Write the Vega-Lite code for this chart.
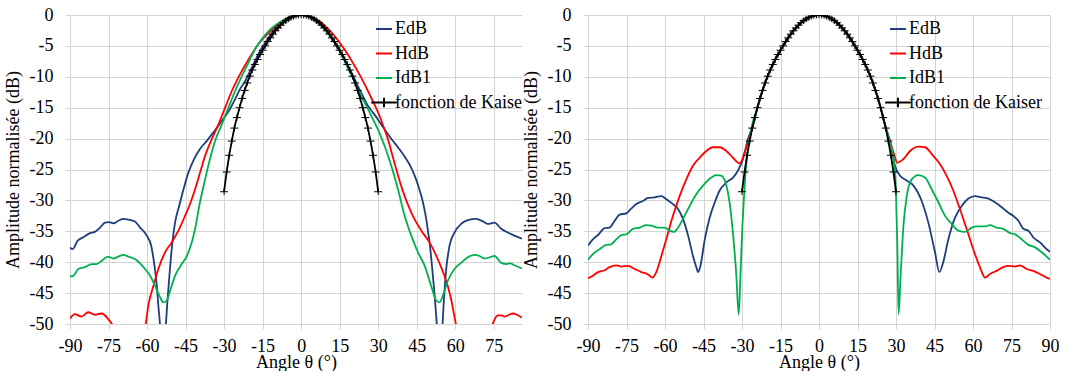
{
  "$schema": "https://vega.github.io/schema/vega-lite/v6.json",
  "background": "white",
  "padding": {"left": 4, "top": 6, "right": 0, "bottom": 0},
  "spacing": 0,
  "usermeta": {"embedOptions": {"config": {"font": "Liberation Serif", "axis": {"labelFont": "Liberation Serif", "titleFont": "Liberation Serif"}, "style": {"guide-label": {"font": "Liberation Serif"}, "guide-title": {"font": "Liberation Serif"}}}}},
  "config": {
    "view": {"stroke": null},
    "axis": {"labelFont": "Liberation Serif", "titleFont": "Liberation Serif"},
    "style": {"guide-label": {"font": "Liberation Serif"}, "guide-title": {"font": "Liberation Serif"}},
    "legend": {"orient": "none", "title": null, "padding": 0}
  },
  "resolve": {"scale": {"color": "independent"}, "legend": {"color": "independent"}},
  "datasets": {
    "left": [
      {"s":"EdB","x":-90,"y":-37.6},{"s":"EdB","x":-89,"y":-37.9},{"s":"EdB","x":-87,"y":-36.5},{"s":"EdB","x":-85,"y":-36.0},{"s":"EdB","x":-82.2,"y":-35.3},{"s":"EdB","x":-80.3,"y":-35.1},{"s":"EdB","x":-78.3,"y":-34.4},{"s":"EdB","x":-76.4,"y":-33.6},{"s":"EdB","x":-74.8,"y":-33.5},{"s":"EdB","x":-73.1,"y":-33.7},{"s":"EdB","x":-71.2,"y":-33.3},{"s":"EdB","x":-69.2,"y":-33.0},{"s":"EdB","x":-67.3,"y":-33.1},{"s":"EdB","x":-64.7,"y":-33.4},{"s":"EdB","x":-62.7,"y":-34.4},{"s":"EdB","x":-60.1,"y":-35.7},{"s":"EdB","x":-58.4,"y":-37.3},{"s":"EdB","x":-57.3,"y":-40.0},{"s":"EdB","x":-56.2,"y":-43.8},{"s":"EdB","x":-55.6,"y":-47.0},{"s":"EdB","x":-54.9,"y":-50.5},{"s":"EdB","x":-54,"y":-58},{"s":"EdB","x":-52.8,"y":-51},{"s":"EdB","x":-52.1,"y":-46.5},{"s":"EdB","x":-51.3,"y":-42.2},{"s":"EdB","x":-50.4,"y":-37.9},{"s":"EdB","x":-49.1,"y":-33.6},{"s":"EdB","x":-47.5,"y":-30.9},{"s":"EdB","x":-45.8,"y":-28.2},{"s":"EdB","x":-43.9,"y":-25.5},{"s":"EdB","x":-42.0,"y":-23.6},{"s":"EdB","x":-39.4,"y":-21.7},{"s":"EdB","x":-36.8,"y":-20.4},{"s":"EdB","x":-34.2,"y":-19.0},{"s":"EdB","x":-32.2,"y":-17.9},{"s":"EdB","x":-29.6,"y":-16.4},{"s":"EdB","x":-27.7,"y":-15.2},{"s":"EdB","x":-25.7,"y":-13.6},{"s":"EdB","x":-23.8,"y":-12.0},{"s":"EdB","x":-21.8,"y":-10.7},{"s":"EdB","x":-19.9,"y":-9.1},{"s":"EdB","x":-17.9,"y":-7.4},{"s":"EdB","x":-16.0,"y":-5.8},{"s":"EdB","x":-14.0,"y":-4.5},{"s":"EdB","x":-11.4,"y":-2.9},{"s":"EdB","x":-8.8,"y":-1.8},{"s":"EdB","x":-6.2,"y":-1.0},{"s":"EdB","x":-3.6,"y":-0.4},{"s":"EdB","x":0,"y":0},{"s":"EdB","x":2.6,"y":-0.2},{"s":"EdB","x":5,"y":-0.7},{"s":"EdB","x":7.8,"y":-1.5},{"s":"EdB","x":10.5,"y":-2.8},{"s":"EdB","x":13.0,"y":-4.5},{"s":"EdB","x":15.3,"y":-6.0},{"s":"EdB","x":17.5,"y":-7.7},{"s":"EdB","x":19.8,"y":-9.5},{"s":"EdB","x":22.1,"y":-11.5},{"s":"EdB","x":24,"y":-13.1},{"s":"EdB","x":26.0,"y":-14.7},{"s":"EdB","x":28,"y":-15.8},{"s":"EdB","x":29.9,"y":-16.9},{"s":"EdB","x":31.8,"y":-18.1},{"s":"EdB","x":33.8,"y":-19.3},{"s":"EdB","x":35.8,"y":-20.4},{"s":"EdB","x":37.7,"y":-21.4},{"s":"EdB","x":39.3,"y":-22.3},{"s":"EdB","x":40.9,"y":-23.3},{"s":"EdB","x":42.6,"y":-24.5},{"s":"EdB","x":44.2,"y":-26.0},{"s":"EdB","x":45.5,"y":-27.5},{"s":"EdB","x":46.8,"y":-29.3},{"s":"EdB","x":47.8,"y":-31.0},{"s":"EdB","x":48.7,"y":-33.0},{"s":"EdB","x":49.4,"y":-35},{"s":"EdB","x":50.0,"y":-36.8},{"s":"EdB","x":51.3,"y":-42.2},{"s":"EdB","x":52.2,"y":-46.5},{"s":"EdB","x":52.9,"y":-50.5},{"s":"EdB","x":53.9,"y":-58},{"s":"EdB","x":55,"y":-50.5},{"s":"EdB","x":55.6,"y":-46.0},{"s":"EdB","x":56.5,"y":-41.1},{"s":"EdB","x":57.8,"y":-37.3},{"s":"EdB","x":59.7,"y":-35.2},{"s":"EdB","x":62.3,"y":-33.8},{"s":"EdB","x":64.9,"y":-33.2},{"s":"EdB","x":68.2,"y":-33.0},{"s":"EdB","x":70.8,"y":-33.4},{"s":"EdB","x":72.7,"y":-33.8},{"s":"EdB","x":75.3,"y":-33.6},{"s":"EdB","x":77.9,"y":-34.6},{"s":"EdB","x":80.5,"y":-35.2},{"s":"EdB","x":83,"y":-35.7},{"s":"EdB","x":86,"y":-36.2},
      {"s":"HdB","x":-90,"y":-49.1},{"s":"HdB","x":-88.1,"y":-48.4},{"s":"HdB","x":-85.5,"y":-48.8},{"s":"HdB","x":-82.9,"y":-48.1},{"s":"HdB","x":-80.3,"y":-48.5},{"s":"HdB","x":-77.7,"y":-48.3},{"s":"HdB","x":-75.1,"y":-49.2},{"s":"HdB","x":-73.2,"y":-50.3},{"s":"HdB","x":-70,"y":-53},{"s":"HdB","x":-66,"y":-55},{"s":"HdB","x":-62,"y":-53},{"s":"HdB","x":-60.6,"y":-50.3},{"s":"HdB","x":-59.5,"y":-47.0},{"s":"HdB","x":-57.5,"y":-43.8},{"s":"HdB","x":-55.6,"y":-41.1},{"s":"HdB","x":-53.0,"y":-38.4},{"s":"HdB","x":-50.4,"y":-36.8},{"s":"HdB","x":-47.8,"y":-34.9},{"s":"HdB","x":-45.2,"y":-32.5},{"s":"HdB","x":-43.2,"y":-30.5},{"s":"HdB","x":-41.3,"y":-28.2},{"s":"HdB","x":-39.3,"y":-25.4},{"s":"HdB","x":-37.4,"y":-22.8},{"s":"HdB","x":-34.8,"y":-20.1},{"s":"HdB","x":-32.2,"y":-17.7},{"s":"HdB","x":-29.6,"y":-15.0},{"s":"HdB","x":-27.0,"y":-12.3},{"s":"HdB","x":-23.8,"y":-9.6},{"s":"HdB","x":-20.5,"y":-7.2},{"s":"HdB","x":-16.6,"y":-4.7},{"s":"HdB","x":-12.7,"y":-2.9},{"s":"HdB","x":-8.8,"y":-1.5},{"s":"HdB","x":-4.9,"y":-0.4},{"s":"HdB","x":0,"y":0},{"s":"HdB","x":2.6,"y":-0.2},{"s":"HdB","x":5.2,"y":-0.6},{"s":"HdB","x":7.8,"y":-1.2},{"s":"HdB","x":10.4,"y":-2.2},{"s":"HdB","x":13.0,"y":-3.4},{"s":"HdB","x":15.6,"y":-4.8},{"s":"HdB","x":18.2,"y":-6.4},{"s":"HdB","x":20.5,"y":-8.0},{"s":"HdB","x":22.7,"y":-9.6},{"s":"HdB","x":24.7,"y":-11.2},{"s":"HdB","x":26.6,"y":-12.8},{"s":"HdB","x":28.6,"y":-14.5},{"s":"HdB","x":30.5,"y":-16.3},{"s":"HdB","x":32.2,"y":-18.2},{"s":"HdB","x":33.8,"y":-20.1},{"s":"HdB","x":35.4,"y":-22.5},{"s":"HdB","x":37.0,"y":-24.9},{"s":"HdB","x":38.7,"y":-27.3},{"s":"HdB","x":40.3,"y":-29.3},{"s":"HdB","x":41.9,"y":-31.0},{"s":"HdB","x":43.5,"y":-32.5},{"s":"HdB","x":46.8,"y":-34.9},{"s":"HdB","x":50.0,"y":-36.8},{"s":"HdB","x":53.2,"y":-39.5},{"s":"HdB","x":55.8,"y":-42.2},{"s":"HdB","x":57.2,"y":-44},{"s":"HdB","x":58.4,"y":-46.0},{"s":"HdB","x":60.4,"y":-50.3},{"s":"HdB","x":62,"y":-53},{"s":"HdB","x":68,"y":-55},{"s":"HdB","x":73,"y":-52},{"s":"HdB","x":74.6,"y":-50.0},{"s":"HdB","x":76.5,"y":-48.6},{"s":"HdB","x":78,"y":-48.6},{"s":"HdB","x":79.3,"y":-48.8},{"s":"HdB","x":81,"y":-48.5},{"s":"HdB","x":82.5,"y":-48.3},{"s":"HdB","x":84,"y":-48.5},{"s":"HdB","x":86,"y":-49.0},
      {"s":"IdB1","x":-90,"y":-42.3},{"s":"IdB1","x":-88.7,"y":-42.2},{"s":"IdB1","x":-86.8,"y":-41.1},{"s":"IdB1","x":-84.2,"y":-40.8},{"s":"IdB1","x":-81.6,"y":-40.3},{"s":"IdB1","x":-79.6,"y":-40.3},{"s":"IdB1","x":-77.7,"y":-39.8},{"s":"IdB1","x":-75.3,"y":-39.1},{"s":"IdB1","x":-73.1,"y":-39.4},{"s":"IdB1","x":-71.2,"y":-39.1},{"s":"IdB1","x":-69.2,"y":-38.8},{"s":"IdB1","x":-67.3,"y":-39.1},{"s":"IdB1","x":-64.7,"y":-39.5},{"s":"IdB1","x":-61.4,"y":-40.8},{"s":"IdB1","x":-58.8,"y":-42.2},{"s":"IdB1","x":-56.9,"y":-43.8},{"s":"IdB1","x":-54.9,"y":-45.7},{"s":"IdB1","x":-53.6,"y":-46.5},{"s":"IdB1","x":-52.3,"y":-46.2},{"s":"IdB1","x":-51.0,"y":-44.6},{"s":"IdB1","x":-49.1,"y":-42.2},{"s":"IdB1","x":-46.5,"y":-40.3},{"s":"IdB1","x":-44.5,"y":-39.0},{"s":"IdB1","x":-42.6,"y":-36.8},{"s":"IdB1","x":-41.3,"y":-34.6},{"s":"IdB1","x":-39.4,"y":-30.3},{"s":"IdB1","x":-37.4,"y":-26.6},{"s":"IdB1","x":-35.5,"y":-23.3},{"s":"IdB1","x":-33.5,"y":-20.4},{"s":"IdB1","x":-30.9,"y":-17.7},{"s":"IdB1","x":-28.3,"y":-15.0},{"s":"IdB1","x":-25.7,"y":-12.3},{"s":"IdB1","x":-23.1,"y":-9.9},{"s":"IdB1","x":-20.5,"y":-7.7},{"s":"IdB1","x":-17.9,"y":-5.5},{"s":"IdB1","x":-15.3,"y":-3.9},{"s":"IdB1","x":-12.7,"y":-2.6},{"s":"IdB1","x":-9.5,"y":-1.5},{"s":"IdB1","x":-6.2,"y":-0.7},{"s":"IdB1","x":-3.0,"y":-0.2},{"s":"IdB1","x":0,"y":0},{"s":"IdB1","x":2.6,"y":-0.2},{"s":"IdB1","x":5.2,"y":-0.8},{"s":"IdB1","x":7.8,"y":-1.7},{"s":"IdB1","x":10.4,"y":-2.9},{"s":"IdB1","x":13.0,"y":-4.5},{"s":"IdB1","x":15.3,"y":-6.1},{"s":"IdB1","x":17.5,"y":-8.0},{"s":"IdB1","x":19.8,"y":-9.9},{"s":"IdB1","x":22.1,"y":-12.0},{"s":"IdB1","x":24,"y":-13.6},{"s":"IdB1","x":26.0,"y":-15.2},{"s":"IdB1","x":28,"y":-16.9},{"s":"IdB1","x":29.9,"y":-18.5},{"s":"IdB1","x":32.5,"y":-21.2},{"s":"IdB1","x":35.1,"y":-24.4},{"s":"IdB1","x":37.7,"y":-28.2},{"s":"IdB1","x":40.3,"y":-32.5},{"s":"IdB1","x":42.9,"y":-35.7},{"s":"IdB1","x":45.5,"y":-38.4},{"s":"IdB1","x":48.1,"y":-40.6},{"s":"IdB1","x":50.6,"y":-43.8},{"s":"IdB1","x":52.6,"y":-46.2},{"s":"IdB1","x":53.9,"y":-46.5},{"s":"IdB1","x":55.2,"y":-45.4},{"s":"IdB1","x":57.1,"y":-43.0},{"s":"IdB1","x":59.7,"y":-41.1},{"s":"IdB1","x":62.3,"y":-40.1},{"s":"IdB1","x":64.9,"y":-39.2},{"s":"IdB1","x":67.5,"y":-38.8},{"s":"IdB1","x":69.5,"y":-39.0},{"s":"IdB1","x":71.4,"y":-39.4},{"s":"IdB1","x":73.4,"y":-39.2},{"s":"IdB1","x":75.3,"y":-39.0},{"s":"IdB1","x":77.9,"y":-40.1},{"s":"IdB1","x":79.9,"y":-40.3},{"s":"IdB1","x":81.5,"y":-40.2},{"s":"IdB1","x":83,"y":-40.5},{"s":"IdB1","x":86,"y":-41.0},
      {"s":"fonction de Kaiser","x":-30,"y":-28.6},{"s":"fonction de Kaiser","x":-29,"y":-25.4},{"s":"fonction de Kaiser","x":-28,"y":-22.7},{"s":"fonction de Kaiser","x":-27,"y":-20.4},{"s":"fonction de Kaiser","x":-26,"y":-18.3},{"s":"fonction de Kaiser","x":-25,"y":-16.6},{"s":"fonction de Kaiser","x":-24,"y":-15.0},{"s":"fonction de Kaiser","x":-23,"y":-13.5},{"s":"fonction de Kaiser","x":-22,"y":-12.2},{"s":"fonction de Kaiser","x":-21,"y":-11.0},{"s":"fonction de Kaiser","x":-20,"y":-9.9},{"s":"fonction de Kaiser","x":-19,"y":-8.9},{"s":"fonction de Kaiser","x":-18,"y":-8.0},{"s":"fonction de Kaiser","x":-17,"y":-7.2},{"s":"fonction de Kaiser","x":-16,"y":-6.4},{"s":"fonction de Kaiser","x":-15,"y":-5.7},{"s":"fonction de Kaiser","x":-14,"y":-5.0},{"s":"fonction de Kaiser","x":-13,"y":-4.3},{"s":"fonction de Kaiser","x":-12,"y":-3.7},{"s":"fonction de Kaiser","x":-11,"y":-3.1},{"s":"fonction de Kaiser","x":-10,"y":-2.55},{"s":"fonction de Kaiser","x":-9,"y":-2.1},{"s":"fonction de Kaiser","x":-8,"y":-1.65},{"s":"fonction de Kaiser","x":-7,"y":-1.25},{"s":"fonction de Kaiser","x":-6,"y":-0.92},{"s":"fonction de Kaiser","x":-5,"y":-0.64},{"s":"fonction de Kaiser","x":-4,"y":-0.41},{"s":"fonction de Kaiser","x":-3,"y":-0.23},{"s":"fonction de Kaiser","x":-2,"y":-0.1},{"s":"fonction de Kaiser","x":-1,"y":-0.03},{"s":"fonction de Kaiser","x":0,"y":0},{"s":"fonction de Kaiser","x":1,"y":-0.03},{"s":"fonction de Kaiser","x":2,"y":-0.1},{"s":"fonction de Kaiser","x":3,"y":-0.23},{"s":"fonction de Kaiser","x":4,"y":-0.41},{"s":"fonction de Kaiser","x":5,"y":-0.64},{"s":"fonction de Kaiser","x":6,"y":-0.92},{"s":"fonction de Kaiser","x":7,"y":-1.25},{"s":"fonction de Kaiser","x":8,"y":-1.65},{"s":"fonction de Kaiser","x":9,"y":-2.1},{"s":"fonction de Kaiser","x":10,"y":-2.55},{"s":"fonction de Kaiser","x":11,"y":-3.1},{"s":"fonction de Kaiser","x":12,"y":-3.7},{"s":"fonction de Kaiser","x":13,"y":-4.3},{"s":"fonction de Kaiser","x":14,"y":-5.0},{"s":"fonction de Kaiser","x":15,"y":-5.7},{"s":"fonction de Kaiser","x":16,"y":-6.4},{"s":"fonction de Kaiser","x":17,"y":-7.2},{"s":"fonction de Kaiser","x":18,"y":-8.0},{"s":"fonction de Kaiser","x":19,"y":-8.9},{"s":"fonction de Kaiser","x":20,"y":-9.9},{"s":"fonction de Kaiser","x":21,"y":-11.0},{"s":"fonction de Kaiser","x":22,"y":-12.2},{"s":"fonction de Kaiser","x":23,"y":-13.5},{"s":"fonction de Kaiser","x":24,"y":-15.0},{"s":"fonction de Kaiser","x":25,"y":-16.6},{"s":"fonction de Kaiser","x":26,"y":-18.3},{"s":"fonction de Kaiser","x":27,"y":-20.4},{"s":"fonction de Kaiser","x":28,"y":-22.7},{"s":"fonction de Kaiser","x":29,"y":-25.4},{"s":"fonction de Kaiser","x":30,"y":-28.6}
    ],
    "right": [
      {"s":"EdB","x":-90,"y":-37.3},{"s":"EdB","x":-88.1,"y":-36.3},{"s":"EdB","x":-86.1,"y":-35.6},{"s":"EdB","x":-83.5,"y":-34.5},{"s":"EdB","x":-81.6,"y":-34.4},{"s":"EdB","x":-79.6,"y":-33.3},{"s":"EdB","x":-77.7,"y":-32.3},{"s":"EdB","x":-75.1,"y":-32.1},{"s":"EdB","x":-73.1,"y":-31.3},{"s":"EdB","x":-71.2,"y":-30.6},{"s":"EdB","x":-68.6,"y":-30.1},{"s":"EdB","x":-66.6,"y":-29.6},{"s":"EdB","x":-64.0,"y":-29.5},{"s":"EdB","x":-61.4,"y":-29.3},{"s":"EdB","x":-59.5,"y":-29.8},{"s":"EdB","x":-56.9,"y":-30.6},{"s":"EdB","x":-54.9,"y":-31.4},{"s":"EdB","x":-53.0,"y":-33.0},{"s":"EdB","x":-51.0,"y":-35.7},{"s":"EdB","x":-49.1,"y":-39.0},{"s":"EdB","x":-47.8,"y":-40.8},{"s":"EdB","x":-47.1,"y":-41.6},{"s":"EdB","x":-46.2,"y":-40.6},{"s":"EdB","x":-44.5,"y":-36.3},{"s":"EdB","x":-42.6,"y":-32.8},{"s":"EdB","x":-40.6,"y":-30.3},{"s":"EdB","x":-38.7,"y":-28.4},{"s":"EdB","x":-36.1,"y":-27.1},{"s":"EdB","x":-33.5,"y":-26.3},{"s":"EdB","x":-31.6,"y":-25.2},{"s":"EdB","x":-29.6,"y":-23.3},{"s":"EdB","x":-27.7,"y":-20.1},{"s":"EdB","x":-26,"y":-18.2},{"s":"EdB","x":-24,"y":-15.0},{"s":"EdB","x":-22,"y":-12.2},{"s":"EdB","x":-20,"y":-9.9},{"s":"EdB","x":-17,"y":-7.2},{"s":"EdB","x":-14,"y":-5.0},{"s":"EdB","x":-11,"y":-3.1},{"s":"EdB","x":-8,"y":-1.65},{"s":"EdB","x":-5,"y":-0.64},{"s":"EdB","x":-2,"y":-0.1},{"s":"EdB","x":0,"y":0},{"s":"EdB","x":2,"y":-0.1},{"s":"EdB","x":5,"y":-0.64},{"s":"EdB","x":8,"y":-1.65},{"s":"EdB","x":11,"y":-3.1},{"s":"EdB","x":14,"y":-5.0},{"s":"EdB","x":17,"y":-7.2},{"s":"EdB","x":20,"y":-9.9},{"s":"EdB","x":22,"y":-12.2},{"s":"EdB","x":24,"y":-15.0},{"s":"EdB","x":26,"y":-18.2},{"s":"EdB","x":27.7,"y":-20.4},{"s":"EdB","x":29.6,"y":-24.4},{"s":"EdB","x":31.6,"y":-26.0},{"s":"EdB","x":34.2,"y":-26.8},{"s":"EdB","x":36.8,"y":-27.6},{"s":"EdB","x":40.0,"y":-30.1},{"s":"EdB","x":42.6,"y":-33.6},{"s":"EdB","x":45.2,"y":-38.4},{"s":"EdB","x":46.9,"y":-41.6},{"s":"EdB","x":48.4,"y":-40.0},{"s":"EdB","x":50.4,"y":-36.3},{"s":"EdB","x":53.0,"y":-32.8},{"s":"EdB","x":55.6,"y":-30.9},{"s":"EdB","x":58.2,"y":-29.7},{"s":"EdB","x":60.8,"y":-29.3},{"s":"EdB","x":63.4,"y":-29.5},{"s":"EdB","x":66.0,"y":-29.7},{"s":"EdB","x":68.6,"y":-30.3},{"s":"EdB","x":71.2,"y":-31.1},{"s":"EdB","x":73.8,"y":-32.0},{"s":"EdB","x":75.7,"y":-32.5},{"s":"EdB","x":77.7,"y":-33.3},{"s":"EdB","x":79.6,"y":-34.6},{"s":"EdB","x":81.6,"y":-34.9},{"s":"EdB","x":83.5,"y":-36.0},{"s":"EdB","x":86.1,"y":-36.8},{"s":"EdB","x":88.7,"y":-37.9},{"s":"EdB","x":90,"y":-38.3},
      {"s":"HdB","x":-90,"y":-42.6},{"s":"HdB","x":-88.1,"y":-42.2},{"s":"HdB","x":-86.1,"y":-41.6},{"s":"HdB","x":-83.5,"y":-41.3},{"s":"HdB","x":-81.6,"y":-40.8},{"s":"HdB","x":-79.0,"y":-40.5},{"s":"HdB","x":-77.0,"y":-40.7},{"s":"HdB","x":-74.4,"y":-40.6},{"s":"HdB","x":-71.8,"y":-41.1},{"s":"HdB","x":-69.2,"y":-41.6},{"s":"HdB","x":-66.6,"y":-42.0},{"s":"HdB","x":-64.9,"y":-42.5},{"s":"HdB","x":-63.4,"y":-41.6},{"s":"HdB","x":-61.4,"y":-39.0},{"s":"HdB","x":-59.5,"y":-36.3},{"s":"HdB","x":-56.9,"y":-32.5},{"s":"HdB","x":-54.3,"y":-29.3},{"s":"HdB","x":-51.7,"y":-26.6},{"s":"HdB","x":-49.1,"y":-24.4},{"s":"HdB","x":-46.5,"y":-23.1},{"s":"HdB","x":-43.9,"y":-22.0},{"s":"HdB","x":-41.3,"y":-21.4},{"s":"HdB","x":-38.7,"y":-21.4},{"s":"HdB","x":-36.1,"y":-22.0},{"s":"HdB","x":-33.5,"y":-23.1},{"s":"HdB","x":-30.9,"y":-24.0},{"s":"HdB","x":-29.0,"y":-22.3},{"s":"HdB","x":-27.7,"y":-20.6},{"s":"HdB","x":-26,"y":-18.3},{"s":"HdB","x":-24,"y":-15.0},{"s":"HdB","x":-22,"y":-12.2},{"s":"HdB","x":-20,"y":-9.9},{"s":"HdB","x":-17,"y":-7.2},{"s":"HdB","x":-14,"y":-5.0},{"s":"HdB","x":-11,"y":-3.1},{"s":"HdB","x":-8,"y":-1.65},{"s":"HdB","x":-5,"y":-0.64},{"s":"HdB","x":-2,"y":-0.1},{"s":"HdB","x":0,"y":0},{"s":"HdB","x":2,"y":-0.1},{"s":"HdB","x":5,"y":-0.64},{"s":"HdB","x":8,"y":-1.65},{"s":"HdB","x":11,"y":-3.1},{"s":"HdB","x":14,"y":-5.0},{"s":"HdB","x":17,"y":-7.2},{"s":"HdB","x":20,"y":-9.9},{"s":"HdB","x":22,"y":-12.2},{"s":"HdB","x":24,"y":-15.0},{"s":"HdB","x":26,"y":-18.3},{"s":"HdB","x":27.6,"y":-20.4},{"s":"HdB","x":29.1,"y":-22.3},{"s":"HdB","x":30.5,"y":-23.9},{"s":"HdB","x":32.9,"y":-23.3},{"s":"HdB","x":35.5,"y":-22.0},{"s":"HdB","x":38.7,"y":-21.3},{"s":"HdB","x":41.3,"y":-21.4},{"s":"HdB","x":44.5,"y":-22.8},{"s":"HdB","x":47.1,"y":-24.1},{"s":"HdB","x":49.7,"y":-26.0},{"s":"HdB","x":52.3,"y":-28.4},{"s":"HdB","x":54.9,"y":-31.4},{"s":"HdB","x":57.5,"y":-34.6},{"s":"HdB","x":60.1,"y":-37.9},{"s":"HdB","x":62.7,"y":-40.8},{"s":"HdB","x":64.7,"y":-42.5},{"s":"HdB","x":66.6,"y":-41.9},{"s":"HdB","x":69.2,"y":-41.4},{"s":"HdB","x":71.8,"y":-40.8},{"s":"HdB","x":73.8,"y":-40.6},{"s":"HdB","x":76.4,"y":-40.7},{"s":"HdB","x":78.3,"y":-40.5},{"s":"HdB","x":80.9,"y":-41.1},{"s":"HdB","x":83.5,"y":-41.4},{"s":"HdB","x":86.1,"y":-41.9},{"s":"HdB","x":88.7,"y":-42.5},{"s":"HdB","x":90,"y":-42.7},
      {"s":"IdB1","x":-90,"y":-39.6},{"s":"IdB1","x":-88.1,"y":-38.7},{"s":"IdB1","x":-85.5,"y":-37.9},{"s":"IdB1","x":-82.9,"y":-37.2},{"s":"IdB1","x":-81.0,"y":-37.1},{"s":"IdB1","x":-79.0,"y":-36.3},{"s":"IdB1","x":-77.0,"y":-35.6},{"s":"IdB1","x":-75.1,"y":-35.5},{"s":"IdB1","x":-72.5,"y":-34.6},{"s":"IdB1","x":-69.9,"y":-34.4},{"s":"IdB1","x":-67.3,"y":-34.0},{"s":"IdB1","x":-65.3,"y":-34.1},{"s":"IdB1","x":-62.7,"y":-34.4},{"s":"IdB1","x":-60.1,"y":-34.4},{"s":"IdB1","x":-58.2,"y":-34.9},{"s":"IdB1","x":-56.6,"y":-35.1},{"s":"IdB1","x":-54.9,"y":-34.4},{"s":"IdB1","x":-53.0,"y":-33.0},{"s":"IdB1","x":-50.4,"y":-30.9},{"s":"IdB1","x":-47.8,"y":-29.0},{"s":"IdB1","x":-45.2,"y":-27.6},{"s":"IdB1","x":-42.6,"y":-26.5},{"s":"IdB1","x":-40.0,"y":-25.9},{"s":"IdB1","x":-38.1,"y":-26.0},{"s":"IdB1","x":-36.1,"y":-27.6},{"s":"IdB1","x":-34.5,"y":-31.4},{"s":"IdB1","x":-33.2,"y":-36.8},{"s":"IdB1","x":-32.2,"y":-42.2},{"s":"IdB1","x":-31.3,"y":-48.5},{"s":"IdB1","x":-30.6,"y":-42.2},{"s":"IdB1","x":-30.0,"y":-35.7},{"s":"IdB1","x":-29.2,"y":-29.3},{"s":"IdB1","x":-28.3,"y":-23.9},{"s":"IdB1","x":-27.3,"y":-20.6},{"s":"IdB1","x":-25.7,"y":-17.2},{"s":"IdB1","x":-24,"y":-15.0},{"s":"IdB1","x":-22,"y":-12.2},{"s":"IdB1","x":-20,"y":-9.9},{"s":"IdB1","x":-17,"y":-7.2},{"s":"IdB1","x":-14,"y":-5.0},{"s":"IdB1","x":-11,"y":-3.1},{"s":"IdB1","x":-8,"y":-1.65},{"s":"IdB1","x":-5,"y":-0.64},{"s":"IdB1","x":-2,"y":-0.1},{"s":"IdB1","x":0,"y":0},{"s":"IdB1","x":2,"y":-0.1},{"s":"IdB1","x":5,"y":-0.64},{"s":"IdB1","x":8,"y":-1.65},{"s":"IdB1","x":11,"y":-3.1},{"s":"IdB1","x":14,"y":-5.0},{"s":"IdB1","x":17,"y":-7.2},{"s":"IdB1","x":20,"y":-9.9},{"s":"IdB1","x":22,"y":-12.2},{"s":"IdB1","x":24,"y":-15.0},{"s":"IdB1","x":26,"y":-18.2},{"s":"IdB1","x":27.6,"y":-20.6},{"s":"IdB1","x":29.0,"y":-22.8},{"s":"IdB1","x":30.0,"y":-29.3},{"s":"IdB1","x":30.5,"y":-36.8},{"s":"IdB1","x":31.0,"y":-48.4},{"s":"IdB1","x":31.8,"y":-42.2},{"s":"IdB1","x":32.9,"y":-34.1},{"s":"IdB1","x":34.2,"y":-29.3},{"s":"IdB1","x":36.1,"y":-26.6},{"s":"IdB1","x":38.7,"y":-25.9},{"s":"IdB1","x":41.3,"y":-26.3},{"s":"IdB1","x":43.9,"y":-28.2},{"s":"IdB1","x":46.5,"y":-30.3},{"s":"IdB1","x":49.1,"y":-32.5},{"s":"IdB1","x":51.7,"y":-33.8},{"s":"IdB1","x":54.3,"y":-34.9},{"s":"IdB1","x":56.9,"y":-35.1},{"s":"IdB1","x":59.5,"y":-34.4},{"s":"IdB1","x":62.0,"y":-34.2},{"s":"IdB1","x":64.7,"y":-34.2},{"s":"IdB1","x":66.6,"y":-34.0},{"s":"IdB1","x":69.2,"y":-34.4},{"s":"IdB1","x":71.8,"y":-34.6},{"s":"IdB1","x":74.4,"y":-35.3},{"s":"IdB1","x":76.4,"y":-35.5},{"s":"IdB1","x":79.0,"y":-36.3},{"s":"IdB1","x":81.6,"y":-37.2},{"s":"IdB1","x":84.2,"y":-37.6},{"s":"IdB1","x":86.8,"y":-38.4},{"s":"IdB1","x":88.7,"y":-39.1},{"s":"IdB1","x":90,"y":-39.6},
      {"s":"fonction de Kaiser","x":-30,"y":-28.6},{"s":"fonction de Kaiser","x":-29,"y":-25.4},{"s":"fonction de Kaiser","x":-28,"y":-22.7},{"s":"fonction de Kaiser","x":-27,"y":-20.4},{"s":"fonction de Kaiser","x":-26,"y":-18.3},{"s":"fonction de Kaiser","x":-25,"y":-16.6},{"s":"fonction de Kaiser","x":-24,"y":-15.0},{"s":"fonction de Kaiser","x":-23,"y":-13.5},{"s":"fonction de Kaiser","x":-22,"y":-12.2},{"s":"fonction de Kaiser","x":-21,"y":-11.0},{"s":"fonction de Kaiser","x":-20,"y":-9.9},{"s":"fonction de Kaiser","x":-19,"y":-8.9},{"s":"fonction de Kaiser","x":-18,"y":-8.0},{"s":"fonction de Kaiser","x":-17,"y":-7.2},{"s":"fonction de Kaiser","x":-16,"y":-6.4},{"s":"fonction de Kaiser","x":-15,"y":-5.7},{"s":"fonction de Kaiser","x":-14,"y":-5.0},{"s":"fonction de Kaiser","x":-13,"y":-4.3},{"s":"fonction de Kaiser","x":-12,"y":-3.7},{"s":"fonction de Kaiser","x":-11,"y":-3.1},{"s":"fonction de Kaiser","x":-10,"y":-2.55},{"s":"fonction de Kaiser","x":-9,"y":-2.1},{"s":"fonction de Kaiser","x":-8,"y":-1.65},{"s":"fonction de Kaiser","x":-7,"y":-1.25},{"s":"fonction de Kaiser","x":-6,"y":-0.92},{"s":"fonction de Kaiser","x":-5,"y":-0.64},{"s":"fonction de Kaiser","x":-4,"y":-0.41},{"s":"fonction de Kaiser","x":-3,"y":-0.23},{"s":"fonction de Kaiser","x":-2,"y":-0.1},{"s":"fonction de Kaiser","x":-1,"y":-0.03},{"s":"fonction de Kaiser","x":0,"y":0},{"s":"fonction de Kaiser","x":1,"y":-0.03},{"s":"fonction de Kaiser","x":2,"y":-0.1},{"s":"fonction de Kaiser","x":3,"y":-0.23},{"s":"fonction de Kaiser","x":4,"y":-0.41},{"s":"fonction de Kaiser","x":5,"y":-0.64},{"s":"fonction de Kaiser","x":6,"y":-0.92},{"s":"fonction de Kaiser","x":7,"y":-1.25},{"s":"fonction de Kaiser","x":8,"y":-1.65},{"s":"fonction de Kaiser","x":9,"y":-2.1},{"s":"fonction de Kaiser","x":10,"y":-2.55},{"s":"fonction de Kaiser","x":11,"y":-3.1},{"s":"fonction de Kaiser","x":12,"y":-3.7},{"s":"fonction de Kaiser","x":13,"y":-4.3},{"s":"fonction de Kaiser","x":14,"y":-5.0},{"s":"fonction de Kaiser","x":15,"y":-5.7},{"s":"fonction de Kaiser","x":16,"y":-6.4},{"s":"fonction de Kaiser","x":17,"y":-7.2},{"s":"fonction de Kaiser","x":18,"y":-8.0},{"s":"fonction de Kaiser","x":19,"y":-8.9},{"s":"fonction de Kaiser","x":20,"y":-9.9},{"s":"fonction de Kaiser","x":21,"y":-11.0},{"s":"fonction de Kaiser","x":22,"y":-12.2},{"s":"fonction de Kaiser","x":23,"y":-13.5},{"s":"fonction de Kaiser","x":24,"y":-15.0},{"s":"fonction de Kaiser","x":25,"y":-16.6},{"s":"fonction de Kaiser","x":26,"y":-18.3},{"s":"fonction de Kaiser","x":27,"y":-20.4},{"s":"fonction de Kaiser","x":28,"y":-22.7},{"s":"fonction de Kaiser","x":29,"y":-25.4},{"s":"fonction de Kaiser","x":30,"y":-28.6}
    ]
  },
  "hconcat": [
    {
      "width": 452, "height": 309,
      "data": {"name": "left"},
      "encoding": {
        "x": {"field": "x", "type": "quantitative", "scale": {"domain": [-90, 86], "nice": false, "zero": false},
              "axis": {"title": "Angle θ (°)", "values": [-90,-75,-60,-45,-30,-15,0,15,30,45,60,75], "labelExpr": "'' + datum.value",
                       "labelFont": "Liberation Serif", "labelFontSize": 18, "labelColor": "black", "labelOverlap": false, "labelFlush": false,
                       "titleFont": "Liberation Serif", "titleFontSize": 18, "titleFontWeight": "normal", "titleColor": "black",
                       "gridColor": "#D4D4D4", "tickColor": "#D4D4D4", "domain": false, "tickSize": 5, "labelPadding": 8, "titlePadding": -2}},
        "y": {"field": "y", "type": "quantitative", "scale": {"domain": [-50, 0], "nice": false, "zero": false},
              "axis": {"title": "Amplitude normalisée (dB)", "values": [-50,-45,-40,-35,-30,-25,-20,-15,-10,-5,0], "labelExpr": "'' + datum.value",
                       "labelFont": "Liberation Serif", "labelFontSize": 18, "labelColor": "black", "labelOverlap": false,
                       "titleFont": "Liberation Serif", "titleFontSize": 18, "titleFontWeight": "normal", "titleColor": "black",
                       "gridColor": "#D4D4D4", "tickColor": "#D4D4D4", "domain": false, "tickSize": 5, "labelPadding": 12, "titlePadding": 7}}
      },
      "layer": [
        {
          "mark": {"type": "line", "strokeWidth": 1.8, "clip": true, "interpolate": "monotone"},
          "encoding": {
            "color": {"field": "s", "type": "nominal",
                      "scale": {"domain": ["EdB", "HdB", "IdB1", "fonction de Kaiser"], "range": ["#1F3C7E", "#FF0000", "#00B050", "#000000"]},
                      "legend": {"legendX": 305, "legendY": 5, "labelLimit": 128,
                                 "labelFont": "Liberation Serif", "labelFontSize": 18, "labelColor": "black",
                                 "symbolType": "stroke", "symbolSize": 256, "symbolStrokeWidth": 2, "rowPadding": 6.5, "labelOffset": 2,
                                 "encode": {"symbols": {"update": {"shape": {"signal": "datum.value === 'fonction de Kaiser' ? 'M-1.6,0H1.6M0,-0.6V0.6' : 'stroke'"}}},
                                            "labels": {"update": {"ellipsis": {"value": "\u200b"}}}}}}
          }
        },
        {
          "transform": [{"filter": "datum.s === 'fonction de Kaiser'"}],
          "mark": {"type": "point", "shape": "M-1,0H1M0,-0.8V0.8", "filled": false, "size": 64, "stroke": "black", "strokeWidth": 1, "opacity": 1, "clip": true}
        }
      ]
    },
    {
      "width": 462, "height": 309,
      "data": {"name": "right"},
      "encoding": {
        "x": {"field": "x", "type": "quantitative", "scale": {"domain": [-90, 90], "nice": false, "zero": false},
              "axis": {"title": "Angle θ (°)", "values": [-90,-75,-60,-45,-30,-15,0,15,30,45,60,75,90], "labelExpr": "'' + datum.value",
                       "labelFont": "Liberation Serif", "labelFontSize": 18, "labelColor": "black", "labelOverlap": false, "labelFlush": false,
                       "titleFont": "Liberation Serif", "titleFontSize": 18, "titleFontWeight": "normal", "titleColor": "black",
                       "gridColor": "#D4D4D4", "tickColor": "#D4D4D4", "domain": false, "tickSize": 5, "labelPadding": 8, "titlePadding": -2}},
        "y": {"field": "y", "type": "quantitative", "scale": {"domain": [-50, 0], "nice": false, "zero": false},
              "axis": {"title": "Amplitude normalisée (dB)", "values": [-50,-45,-40,-35,-30,-25,-20,-15,-10,-5,0], "labelExpr": "'' + datum.value",
                       "labelFont": "Liberation Serif", "labelFontSize": 18, "labelColor": "black", "labelOverlap": false,
                       "titleFont": "Liberation Serif", "titleFontSize": 18, "titleFontWeight": "normal", "titleColor": "black",
                       "gridColor": "#D4D4D4", "tickColor": "#D4D4D4", "domain": false, "tickSize": 5, "labelPadding": 12, "titlePadding": 7}}
      },
      "layer": [
        {
          "mark": {"type": "line", "strokeWidth": 1.8, "clip": true, "interpolate": "monotone"},
          "encoding": {
            "color": {"field": "s", "type": "nominal",
                      "scale": {"domain": ["EdB", "HdB", "IdB1", "fonction de Kaiser"], "range": ["#1F3C7E", "#FF0000", "#00B050", "#000000"]},
                      "legend": {"legendX": 301, "legendY": 5,
                                 "labelFont": "Liberation Serif", "labelFontSize": 18, "labelColor": "black",
                                 "symbolType": "stroke", "symbolSize": 256, "symbolStrokeWidth": 2, "rowPadding": 6.5, "labelOffset": 2,
                                 "encode": {"symbols": {"update": {"shape": {"signal": "datum.value === 'fonction de Kaiser' ? 'M-1.6,0H1.6M0,-0.6V0.6' : 'stroke'"}}}}}}
          }
        },
        {
          "transform": [{"filter": "datum.s === 'fonction de Kaiser'"}],
          "mark": {"type": "point", "shape": "M-1,0H1M0,-0.8V0.8", "filled": false, "size": 64, "stroke": "black", "strokeWidth": 1, "opacity": 1, "clip": true}
        }
      ]
    }
  ]
}
